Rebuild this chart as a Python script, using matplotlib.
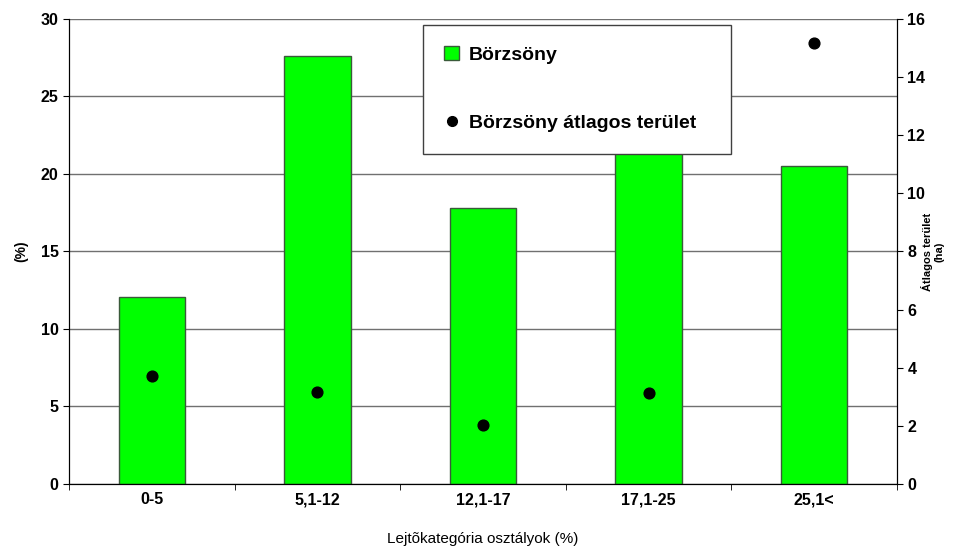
import matplotlib.pyplot as plt
import numpy as np
from matplotlib.lines import Line2D
from matplotlib.patches import Patch

plt.rcParams['font.family'] = ['Liberation Sans', 'DejaVu Sans']

categories = ['0-5', '5,1-12', '12,1-17', '17,1-25', '25,1<']
share_pct = [12.05, 27.6, 17.8, 22.0, 20.5]
mean_area_ha = [3.72, 3.17, 2.03, 3.13, 15.18]

fig = plt.figure(figsize=(9.57, 5.47), dpi=100)
ax = fig.add_axes([0.0721, 0.1152, 0.8652, 0.8501])
x = np.arange(len(categories))

# gridlines
ax.set_ylim(0, 30)
ax.set_yticks(np.arange(0, 31, 5))
ax.yaxis.grid(True, color='#707070', linewidth=1.0)
ax.set_axisbelow(True)

ax.bar(x, share_pct, width=0.4, color='#00ff00', edgecolor='#3a5a3a', linewidth=1.0, zorder=2)
ax.set_xlim(-0.5, len(categories) - 0.5)
ax.set_xticks(x)
ax.set_xticklabels(categories, fontsize=11.5)
ax.set_xticks(np.arange(-0.5, len(categories)), minor=True)
ax.tick_params(axis='x', which='major', length=0, pad=6)
ax.tick_params(axis='x', which='minor', length=4, direction='out')
ax.tick_params(axis='y', length=4, direction='out', labelsize=11.5)
for lab in ax.get_yticklabels() + ax.get_xticklabels():
    lab.set_fontweight('bold')
ax.set_xlabel('Lejtõkategória osztályok (%)', fontsize=11, labelpad=18)
ax.set_ylabel('(%)', fontsize=10, fontweight='bold', labelpad=9)

ax.spines['top'].set_visible(False)

ax2 = ax.twinx()
ax2.scatter(x, mean_area_ha, s=60, color='black', zorder=3)
ax2.set_ylim(0, 16)
ax2.set_yticks(np.arange(0, 17, 2))
ax2.tick_params(axis='y', length=4, direction='out', labelsize=11.5)
for lab in ax2.get_yticklabels():
    lab.set_fontweight('bold')
ax2.set_ylabel('Átlagos terület\n(ha)', fontsize=8, fontweight='bold', labelpad=-3)
ax2.spines['top'].set_visible(False)

handles = [Patch(facecolor='#00ff00', edgecolor='#3a5a3a', label='Börzsöny'),
           Line2D([], [], marker='o', color='black', linestyle='none', markersize=7,
                  label='Börzsöny átlagos terület')]
leg = ax2.legend(handles=handles, loc='upper left', bbox_to_anchor=(0.427, 0.987, 0.372, 0.0),
                 mode='expand', frameon=True, fancybox=False, edgecolor='#404040',
                 framealpha=1.0, prop={'weight': 'bold', 'size': 14},
                 handlelength=0.8, handletextpad=0.5,
                 labelspacing=2.6, borderpad=1.1, borderaxespad=0)
leg.get_frame().set_linewidth(1.0)
leg.set_zorder(10)

fig.savefig('out.png', dpi=100)
